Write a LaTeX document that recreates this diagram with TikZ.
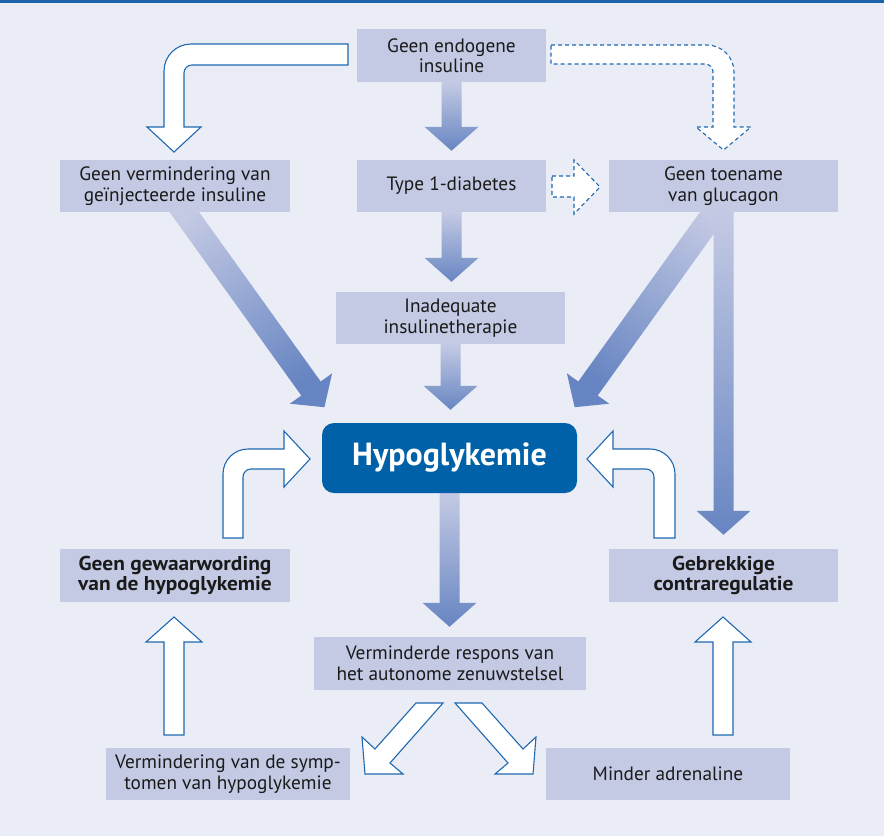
\documentclass[tikz,border=0pt]{standalone}
\usepackage{fontspec}
\setmainfont{PT Sans}
\newfontfamily\wbold{PT Sans}[FakeStretch=1.07]
\usetikzlibrary{calc}
\definecolor{bgc}{HTML}{EAECF6}
\definecolor{topc}{HTML}{1D63AB}
\definecolor{boxc}{HTML}{C4CAE4}
\definecolor{arrdark}{HTML}{6785C2}
\definecolor{hypoc}{HTML}{0061A8}
\definecolor{outc}{HTML}{1F69B1}
\definecolor{txt}{HTML}{1A1A1A}
\pgfdeclarelayer{back}
\pgfdeclarelayer{mid}
\pgfsetlayers{back,mid,main}
\newcommand\vgradarrow[3]{%
  \shade[top color=boxc, bottom color=arrdark] let \p1=#1, \p2=#2 in
   (\x1-10pt,\y1) -- (\x1+10pt,\y1) -- (\x1+10pt,\y2+#3+24pt) -- (\x1+27pt,\y2+#3+24pt)
   -- (\x1,\y2+#3) -- (\x1-27pt,\y2+#3+24pt) -- (\x1-10pt,\y2+#3+24pt) -- cycle;}
\begin{document}
\begin{tikzpicture}[x=1pt,y=-1pt,
  box/.style={fill=boxc, inner sep=0pt, align=center, text=txt,
    font=\fontsize{19.3}{20.5}\selectfont, minimum height=52pt},
  boldbox/.style={box, font=\wbold\fontsize{20}{20.5}\selectfont\bfseries},
  hollow/.style={fill=white, draw=outc, line width=1.1pt, line join=miter},
  dashhollow/.style={hollow, dash pattern=on 4pt off 3pt}]
\begin{pgfonlayer}{back}
\fill[bgc] (0,0) rectangle (884,836);
\fill[topc] (0,0) rectangle (884,3);
\end{pgfonlayer}
\useasboundingbox (0,0) rectangle (884,836);

% boxes
\node[box, minimum width=189pt, minimum height=53pt] (b1) at (451.5,55.5) {Geen endogene\\insuline};
\node[box, minimum width=230pt] (b2) at (175,186) {Geen vermindering van\\geïnjecteerde insuline};
\node[box, minimum width=189pt] (b3) at (451.5,186) {Type 1-diabetes};
\node[box, minimum width=229pt] (b4) at (723.5,186) {Geen toename\\van glucagon};
\node[box, minimum width=229pt] (b5) at (450.5,318) {Inadequate\\insulinetherapie};
\node[fill=hypoc, rounded corners=12pt, minimum width=255pt, minimum height=70pt, inner sep=0pt,
  text=white, font=\fontsize{32}{34}\selectfont\bfseries] (hypo) at (449.5,458) {Hypoglykemie};
\node[boldbox, minimum width=230pt, minimum height=53pt] (b6) at (175,575.5) {Geen gewaarwording\\van de hypoglykemie};
\node[boldbox, minimum width=229pt, minimum height=53pt] (b7) at (723.5,575.5) {Gebrekkige\\contraregulatie};
\node[box, minimum width=272pt, minimum height=53pt] (b8) at (450,663.5) {Verminderde respons van\\het autonome zenuwstelsel};
\node[box, minimum width=244pt] (b9) at (228,774) {Vermindering van de symp-\\tomen van hypoglykemie};
\node[box, minimum width=244pt] (b10) at (668,774) {Minder adrenaline};

\begin{pgfonlayer}{mid}
% gradient vertical arrows
\vgradarrow{(b1.south)}{(b3.north)}{9pt}
\vgradarrow{(b3.south)}{(b5.north)}{10pt}
\vgradarrow{(b5.south)}{(hypo.north)}{13pt}
\vgradarrow{(hypo.south)}{(b8.north)}{10pt}
% diagonal gradient arrows
\shade[top color=boxc, bottom color=arrdark, shading angle=35.7]
  (160.7,199.7) -- (180.1,185.7) -- (320.7,381.5) -- (332.1,373.3) -- (324.4,407.2)
  -- (289.9,403.7) -- (301.3,395.5) -- cycle;
\shade[top color=boxc, bottom color=arrdark, shading angle=-35.7]
  (738.3,199.7) -- (718.9,185.7) -- (578.3,381.5) -- (566.9,373.3) -- (574.6,407.2)
  -- (609.1,403.7) -- (597.7,395.5) -- cycle;
\vgradarrow{(b4.south)}{(b7.north)}{14pt}

% outlined arrows
\draw[hollow] (348,44) -- (191,44) .. controls (176.1,44) and (164,56.1) .. (164,71)
  -- (164,127) -- (147,127) -- (174,152) -- (201,127) -- (184,127) -- (184,73)
  .. controls (184,68.6) and (187.6,65) .. (192,65) -- (348,65) -- cycle;
\draw[dashhollow] (551,45) -- (707,45) .. controls (721.9,45) and (734,57.1) .. (734,72)
  -- (734,127) -- (751,127) -- (723.5,150) -- (696,127) -- (713,127) -- (713,72)
  .. controls (713,67.6) and (709.4,64) .. (705,64) -- (551,64) -- cycle;
\draw[dashhollow] (552,176) -- (574,176) -- (574,160) -- (600,187) -- (574,214)
  -- (574,197) -- (552,197) -- cycle;
\draw[hollow] (223,538) -- (223,474) .. controls (223,460.2) and (234.2,449) .. (248,449)
  -- (284,449) -- (284,431) -- (310,459) -- (284,487) -- (284,469) -- (251,469)
  .. controls (246.6,469) and (243,472.6) .. (243,477) -- (243,538) -- cycle;
\draw[hollow] (675,538) -- (675,474) .. controls (675,460.2) and (663.8,449) .. (650,449)
  -- (613,449) -- (613,431) -- (587,459) -- (613,487) -- (613,469) -- (646,469)
  .. controls (650.4,469) and (654,472.6) .. (654,477) -- (654,538) -- cycle;
\draw[hollow] (164,735) -- (164,642) -- (146,642) -- (174,617) -- (202,642) -- (184,642)
  -- (184,735) -- cycle;
\draw[hollow] (713,735) -- (713,642) -- (695,642) -- (723,617) -- (751,642) -- (733,642)
  -- (733,735) -- cycle;
\draw[hollow] (416,703) -- (443,703) -- (390,763) -- (403,774) -- (365,774) -- (362,737)
  -- (375,749) -- cycle;
\draw[hollow] (482,703) -- (455,703) -- (508,763) -- (495,774) -- (533,774) -- (536,737)
  -- (523,749) -- cycle;
\end{pgfonlayer}
\end{tikzpicture}
\end{document}
